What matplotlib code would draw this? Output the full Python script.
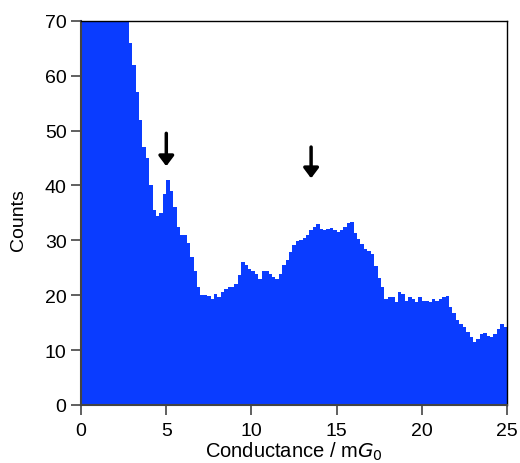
import numpy as np
import matplotlib
matplotlib.use("Agg")
import matplotlib.pyplot as plt

plt.rcParams['font.family'] = ['Liberation Sans', 'DejaVu Sans']

# histogram, bin width 0.2 mG0, from 0 to 25
bin_width = 0.2
counts = [300, 250, 210, 180, 160, 140, 128, 118, 108, 100,
          92, 86, 80, 75, 66, 62, 57, 52, 47, 45,
          40, 35.5, 34.5, 35, 38.5, 41, 39, 36, 32.5, 31,
          31, 29.5, 27, 24.5, 21.5, 20, 20, 19.8, 19.3, 20.2,
          19.7, 20.6, 21.2, 21.5, 21.5, 22, 23.6, 26, 25.5, 24.8,
          24.5, 23.9, 23, 24.5, 24.5, 23.9, 23.3, 23, 23.9, 25.5,
          26.5, 27.8, 29.2, 29.8, 30, 30.4, 31, 31.8, 32.5, 33,
          32, 31.8, 32, 32.2, 31.8, 31.5, 31.9, 32.4, 33.2, 33.3,
          31.3, 30.3, 29.3, 28.4, 28, 27.5, 25.4, 23.2, 21.5, 19.4,
          19.7, 19.6, 18.8, 20.6, 20.2, 18.9, 19.7, 19.3, 18.8, 19.7,
          19, 19, 18.8, 19.3, 19, 19.3, 19.7, 19.9, 17.9, 16.7,
          15.5, 14.8, 14.2, 13.3, 12.4, 11.4, 12.0, 12.9, 13.2, 12.6,
          12.4, 12.9, 13.9, 14.8, 14.3]

# arrow positions (x, top, tip)
arrow_x = [5.0, 13.5]
arrow_top = [49.5, 47.0]
arrow_tip = [43.5, 41.3]

edges = np.arange(len(counts) + 1) * bin_width

fig = plt.figure(figsize=(5.2, 4.64), dpi=100)
ax = fig.add_axes([0.156, 0.125, 0.819, 0.828])

ax.stairs(counts, edges, fill=True, color='#0a3cff', lw=0)

for x, y0, y1 in zip(arrow_x, arrow_top, arrow_tip):
    ax.annotate('', xy=(x, y1), xytext=(x, y0),
                arrowprops=dict(arrowstyle='-|>,head_width=0.45,head_length=0.6',
                                color='black', lw=2.5, shrinkA=0, shrinkB=0))

ax.set_xlim(0, 25)
ax.set_ylim(0, 70)
ax.set_xticks([0, 5, 10, 15, 20, 25])
ax.set_yticks(np.arange(0, 71, 10))
ax.tick_params(direction='out', length=7.5, width=1.2, labelsize=14,
               color='#444444')
ax.tick_params(axis='x', pad=5)
ax.tick_params(axis='y', pad=3)

for s in ['left', 'bottom']:
    ax.spines[s].set_color('#444444')
    ax.spines[s].set_linewidth(1.5)
for s in ['top', 'right']:
    ax.spines[s].set_color('black')
    ax.spines[s].set_linewidth(1)

ax.set_xlabel('Conductance / m$G_0$', fontsize=14.5, va='top')
ax.xaxis.set_label_coords(0.5, -0.091)
ax.set_ylabel('Counts', fontsize=14, va='center')
ax.yaxis.set_label_coords(-0.148, 0.483)

fig.savefig('out.png', dpi=100)
